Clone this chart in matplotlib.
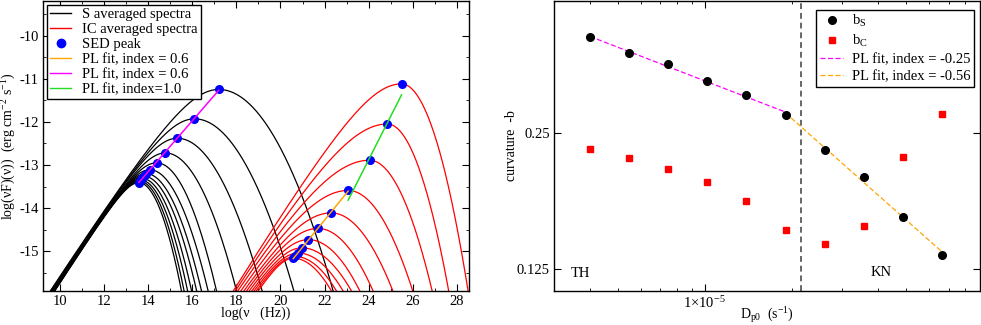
import numpy as np
import matplotlib
matplotlib.use("Agg")
import matplotlib.pyplot as plt
from matplotlib.ticker import MultipleLocator, FixedLocator, FixedFormatter, NullLocator, LogLocator, NullFormatter
from matplotlib.lines import Line2D

plt.rcParams['font.family'] = ['Liberation Serif', 'DejaVu Serif']
plt.rcParams['mathtext.fontset'] = 'custom'
plt.rcParams['mathtext.rm'] = 'Liberation Serif'
plt.rcParams['mathtext.it'] = 'Liberation Serif:italic'
plt.rcParams['axes.unicode_minus'] = False
plt.rcParams['font.size'] = 10

# ---- left panel: SED curves (peak position, peak height, where each curve leaves the bottom edge)
y_bottom = -15.92
s_peak_x = [13.58, 13.62, 13.66, 13.72, 13.80, 13.90, 14.07, 14.38, 14.78, 15.32, 16.10, 17.20]
s_peak_y = [-13.41, -13.38, -13.35, -13.31, -13.26, -13.20, -13.11, -12.95, -12.72, -12.38, -11.93, -11.25]
s_left_x = [9.76, 9.75, 9.74, 9.73, 9.72, 9.70, 9.68, 9.66, 9.64, 9.61, 9.58, 9.56]
s_right_x = [15.51, 15.63, 15.79, 15.97, 16.20, 16.42, 16.72, 17.10, 18.01, 19.17, 20.61, 22.39]

ic_peak_x = [20.58, 20.66, 20.80, 20.97, 21.27, 21.70, 22.30, 23.07, 24.04, 24.85, 25.49]
ic_peak_y = [-15.16, -15.12, -15.04, -14.92, -14.73, -14.47, -14.11, -13.59, -12.89, -12.05, -11.12]
ic_left_x = [18.99, 18.90, 18.80, 18.70, 18.58, 18.46, 18.34, 18.20, 18.06, 17.95, 17.86]
ic_right_x = [22.31, 22.54, 22.84, 23.22, 23.60, 24.20, 25.10, 26.00, 26.88, 27.63, 28.51]

# ---- right panel: curvature vs D_p0
dp0 = [4.0e-6, 5.47e-6, 7.47e-6, 1.02e-5, 1.39e-5, 1.905e-5, 2.61e-5, 3.57e-5, 4.87e-5, 6.67e-5]
b_s = [0.407, 0.3755, 0.3545, 0.326, 0.303, 0.2745, 0.229, 0.200, 0.163, 0.134]
b_c = [0.2305, 0.2198, 0.208, 0.1945, 0.177, 0.152, 0.1415, 0.1555, 0.221, 0.275]
d_th_kn = 2.16e-5


def sed(x, xp, yp, xl, xr, m):
    # hyperbolic rise on the low side, log-parabola on the high side
    D = yp - y_bottom
    dl = xp - xl
    w = (dl**2 - (D / m)**2) * m / (2 * D)
    left = yp - m * (np.sqrt(w**2 + (x - xp)**2) - w)
    br = D / (xr - xp)**2
    right = yp - br * (x - xp)**2
    return np.where(x < xp, left, right)


fig = plt.figure(figsize=(9.81, 3.25), dpi=100)
ax1 = fig.add_axes([43/981, 1 - 291/325, 426/981, 290/325])
ax2 = fig.add_axes([554/981, 1 - 291/325, 426/981, 290/325])

xx = np.linspace(9.0, 29.0, 2000)
for i in range(len(s_peak_x)):
    ax1.plot(xx, sed(xx, s_peak_x[i], s_peak_y[i], s_left_x[i], s_right_x[i], 0.8), color='black', lw=0.9)
for i in range(len(ic_peak_x)):
    ax1.plot(xx, sed(xx, ic_peak_x[i], ic_peak_y[i], ic_left_x[i], ic_right_x[i], 0.85), color='red', lw=0.9)

ax1.plot(s_peak_x + ic_peak_x, s_peak_y + ic_peak_y, 'o', color='blue', ms=5.5, zorder=3)

# power-law fits through the peaks
ps = np.polyfit(s_peak_x, s_peak_y, 1)
xs = np.array([min(s_peak_x), max(s_peak_x)])
ax1.plot(xs, np.polyval(ps, xs), color='magenta', lw=1.1, zorder=4)
lo_x, lo_y = ic_peak_x[:8], ic_peak_y[:8]
po = np.polyfit(lo_x, lo_y, 1)
xo = np.array([min(lo_x), max(lo_x)])
ax1.plot(xo, np.polyval(po, xo), color='orange', lw=1.1, zorder=4)
hi_x, hi_y = ic_peak_x[7:], ic_peak_y[7:]
pg = np.polyfit(hi_x, hi_y, 1)
xg = np.array([min(hi_x), max(hi_x)])
ax1.plot(xg, np.polyval(pg, xg) - 0.1, color='#22dd22', lw=1.1, zorder=4)

ax1.set_xlim(9.23, 28.55)
ax1.set_ylim(y_bottom, -9.2)
ax1.xaxis.set_major_locator(MultipleLocator(2))
ax1.xaxis.set_minor_locator(MultipleLocator(1))
ax1.yaxis.set_major_locator(MultipleLocator(1))
ax1.yaxis.set_minor_locator(MultipleLocator(0.5))
ax1.tick_params(which='both', direction='in', top=True, right=True, labelsize=10.5)
ax1.tick_params(which='major', length=5, pad=3)
ax1.tick_params(which='minor', length=2.5)
ax1.set_xlabel('log(ν   (Hz))', labelpad=-1)
ax1.set_ylabel('log(νF)(ν))  (erg cm$^{-2}$ s$^{-1}$)', labelpad=1)

h1 = [Line2D([], [], color='black', lw=1),
      Line2D([], [], color='red', lw=1),
      Line2D([], [], marker='o', ls='none', color='blue', ms=6),
      Line2D([], [], color='orange', lw=1),
      Line2D([], [], color='magenta', lw=1),
      Line2D([], [], color='#22dd22', lw=1)]
l1 = ['S averaged spectra', 'IC averaged spectra', 'SED peak',
      'PL fit, index = 0.6', 'PL fit, index = 0.6', 'PL fit, index=1.0']
leg1 = ax1.legend(h1, l1, loc='upper left', bbox_to_anchor=(0.0, 1.0), fancybox=False,
                  edgecolor='black', framealpha=1, handlelength=1.4, handletextpad=0.8,
                  labelspacing=0.12, borderpad=0.2, borderaxespad=0.3, fontsize=10.5)
leg1.get_frame().set_linewidth(1.0)

# ---- right panel
ax2.set_xscale('log')
ax2.set_yscale('log', base=2)
ax2.axvline(d_th_kn, color='#666666', ls=(0, (3, 2)), lw=1.4, zorder=1)
ax2.plot(dp0, b_s, 'o', color='black', ms=5.5, label='b$_\\mathrm{S}$', zorder=3)
ax2.plot(dp0, b_c, 's', color='red', ms=4.6, label='b$_\\mathrm{C}$', zorder=3)

lx = np.log10(dp0)
ly = np.log10(b_s)
f1 = np.polyfit(lx[:6], ly[:6], 1)
f2 = np.polyfit(lx[5:], ly[5:], 1)
x1 = np.array([lx[0], lx[5]])
x2 = np.array([lx[5], lx[9]])
ax2.plot(10**x1, 10**np.polyval(f1, x1), color='magenta', ls=(0, (4, 2)), lw=0.9,
         label='PL fit, index = -0.25', zorder=2)
ax2.plot(10**x2, 10**np.polyval(f2, x2), color='orange', ls=(0, (4, 2)), lw=0.9,
         label='PL fit, index = -0.56', zorder=2)

ax2.set_xlim(3e-6, 9e-5)
ax2.set_ylim(0.1116, 0.49)
ax2.xaxis.set_major_locator(FixedLocator([1e-5]))
ax2.xaxis.set_major_formatter(FixedFormatter(['1×10$^{-5}$']))
ax2.xaxis.set_minor_locator(LogLocator(base=10, subs=np.arange(2, 10)))
ax2.xaxis.set_minor_formatter(NullFormatter())
ax2.yaxis.set_major_locator(FixedLocator([0.125, 0.25, 0.5]))
ax2.yaxis.set_major_formatter(FixedFormatter(['0.125', '0.25', '0.5']))
ax2.yaxis.set_minor_locator(NullLocator())
ax2.tick_params(which='both', direction='in', top=True, right=True, labelsize=10.5)
ax2.tick_params(which='major', length=5, pad=3)
ax2.tick_params(which='minor', length=2.5)
ax2.set_xlabel('D$_{\\mathrm{p0}}$  (s$^{-1}$)', labelpad=-4, fontsize=10)
ax2.set_ylabel('curvature  -b', labelpad=-1)
ax2.text(0.061, 0.062, 'TH', transform=ax2.transAxes, ha='center', va='center', fontsize=10.5)
ax2.text(0.767, 0.063, 'KN', transform=ax2.transAxes, ha='center', va='center', fontsize=10.5)

leg2 = ax2.legend(loc='upper right', bbox_to_anchor=(0.997, 0.985), fancybox=False,
                  edgecolor='black', framealpha=1, handlelength=1.6, handletextpad=0.6,
                  labelspacing=0.25, borderpad=0.25, borderaxespad=0.3, fontsize=10.5)
leg2.get_frame().set_linewidth(1.0)

for ax in (ax1, ax2):
    for sp in ax.spines.values():
        sp.set_linewidth(1.0)

fig.savefig('out.png', dpi=100)
